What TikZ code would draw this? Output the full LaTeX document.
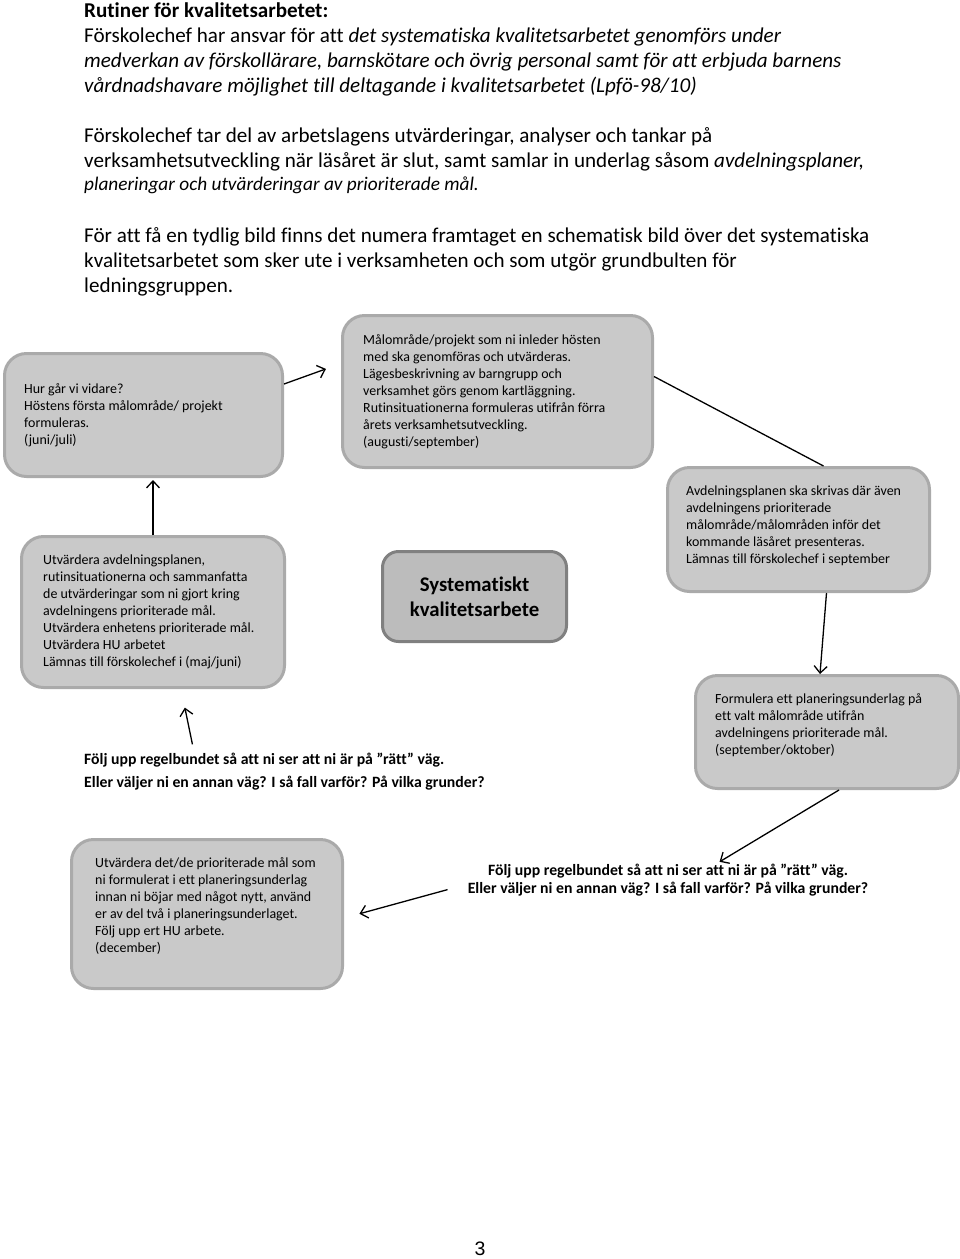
\documentclass[tikz,border=0pt]{standalone}
\usepackage{fontspec}
\setmainfont{Carlito}[Ligatures=NoCommon]
\newfontfamily\sidfont{Liberation Sans}
\usepackage{xcolor}
\usetikzlibrary{arrows.meta}
\usetikzlibrary{positioning}

\definecolor{rutfyll}{RGB}{201,201,201}
\definecolor{rutkant}{RGB}{170,170,170}
\definecolor{mittfyll}{RGB}{188,188,188}
\definecolor{mittkant}{RGB}{128,128,128}

\begin{document}
\begin{tikzpicture}[x=1pt,y=-1pt,
  ruta/.style={draw=rutkant, fill=rutfyll, line width=3pt, rounded corners=22pt,
    inner sep=0pt, anchor=north west},
  rutext/.style={anchor=west, align=left, inner sep=0pt,
    font=\fontsize{13.95}{17}\selectfont},
  brod/.style={anchor=base west, align=left, inner sep=0pt,
    font=\fontsize{21.1}{25}\selectfont},
  fraga/.style={inner sep=0pt, font=\bfseries\fontsize{15.75}{23}\selectfont},
  pil/.style={-{Straight Barb[length=7pt,width=13pt]}, line width=1.3pt}]

\useasboundingbox (0,0) rectangle (960,1259);

% text above the diagram
\node[brod] (rubrik) at (84,92) {\textbf{Rutiner för kvalitetsarbetet:}\\
 Förskolechef har ansvar för att \textit{det systematiska kvalitetsarbetet genomförs under}\\
 \textit{medverkan av förskollärare, barnskötare och övrig personal samt för att erbjuda barnens}\\
 \textit{vårdnadshavare möjlighet till deltagande i kvalitetsarbetet (Lpfö-98/10)}};
\node[brod] (stycke2) at (84,190) {Förskolechef tar del av arbetslagens utvärderingar, analyser och tankar på\\
 verksamhetsutveckling när läsåret är slut, samt samlar in underlag såsom \textit{avdelningsplaner,}\\[-2pt]
 {\fontsize{19.3}{25}\selectfont\textit{planeringar och utvärderingar av prioriterade mål.}}};
\node[brod] (stycke3) at (84,292) {För att få en tydlig bild finns det numera framtaget en schematisk bild över det systematiska\\
 kvalitetsarbetet som sker ute i verksamheten och som utgör grundbulten för\\
 ledningsgruppen.};

% the boxes
\node[ruta, minimum width=278pt, minimum height=123pt] (vidare) at (3,352) {};
\node[rutext] (vidare-txt) at ([xshift=21pt]vidare.west)
 {Hur går vi vidare?\\ Höstens första målområde/ projekt\\ formuleras.\\ (juni/juli)};

\node[ruta, minimum width=310pt, minimum height=152pt] (malomrade) at (341,314) {};
\node[rutext] (malomrade-txt) at ([xshift=22pt]malomrade.west)
 {Målområde/projekt som ni inleder hösten\\ med ska genomföras och utvärderas.\\
  Lägesbeskrivning av barngrupp och\\ verksamhet görs genom kartläggning.\\
  Rutinsituationerna formuleras utifrån förra\\ årets verksamhetsutveckling.\\ (augusti/september)};

\node[ruta, minimum width=262pt, minimum height=124pt] (avdplan) at (666,466) {};
\node[rutext] (avdplan-txt) at ([xshift=20pt,yshift=4pt]avdplan.west)
 {Avdelningsplanen ska skrivas där även\\ avdelningens prioriterade\\
  målområde/målområden inför det\\ kommande läsåret presenteras.\\ Lämnas till förskolechef i september};

\node[ruta, draw=mittkant, fill=mittfyll, rounded corners=16pt, align=center,
  minimum width=184pt, minimum height=90pt, font=\bfseries\fontsize{20.8}{25}\selectfont] (syst) at (381,550)
 {Systematiskt\\ kvalitetsarbete};

\node[ruta, minimum width=263pt, minimum height=151pt] (utvardera) at (20,535) {};
\node[rutext] (utvardera-txt) at ([xshift=23pt]utvardera.west)
 {Utvärdera avdelningsplanen,\\ rutinsituationerna och sammanfatta\\ de utvärderingar som ni gjort kring\\
  avdelningens prioriterade mål.\\ Utvärdera enhetens prioriterade mål.\\ Utvärdera HU arbetet\\
  Lämnas till förskolechef i (maj/juni)};

\node[ruta, minimum width=263pt, minimum height=113pt] (formulera) at (694,674) {};
\node[rutext] (formulera-txt) at ([xshift=21pt,yshift=7pt]formulera.west)
 {Formulera ett planeringsunderlag på\\ ett valt målområde utifrån\\
  avdelningens prioriterade mål.\\ (september/oktober)};

\node[ruta, minimum width=271pt, minimum height=149pt] (december) at (70,838) {};
\node[rutext] (december-txt) at ([xshift=25pt,yshift=8pt]december.west)
 {Utvärdera det/de prioriterade mål som\\ ni formulerat i ett planeringsunderlag\\
  innan ni böjar med något nytt, använd\\ er av del två i planeringsunderlaget.\\
  Följ upp ert HU arbete.\\ (december)};

% free questions
\node[fraga, anchor=base west, align=left] (foljupp1) at (84,787)
 {Följ upp regelbundet så att ni ser att ni är på ”rätt” väg.\\
  Eller väljer ni en annan väg? I så fall varför? På vilka grunder?};
\node[fraga, anchor=base, align=center, font=\bfseries\fontsize{15.75}{18}\selectfont] (foljupp2) at (668,893)
 {Följ upp regelbundet så att ni ser att ni är på ”rätt” väg.\\
  Eller väljer ni en annan väg? I så fall varför? På vilka grunder?};

% arrows
\draw[pil, shorten >=16pt] ([yshift=31pt]vidare.east) -- ([yshift=28pt]malomrade.west);
\draw[pil, shorten >=2pt] (utvardera.north) -- (utvardera.north |- vidare.south);
\draw[line width=1.3pt] ([yshift=15pt]malomrade.east) -- ([xshift=25pt]avdplan.north);
\draw[pil] ([xshift=28pt]avdplan.south) -- ([xshift=-7pt]formulera.north);
\draw[pil, shorten >=3pt] ([xshift=12pt]formulera.south) -- ([xshift=49pt]foljupp2.north);
\draw[pil, shorten >=16pt] ([xshift=-20pt,yshift=-10pt]foljupp2.west) -- ([yshift=-4pt]december.east);
\draw[pil, shorten >=19pt] ([xshift=-92pt,yshift=8pt]foljupp1.north) -- ([xshift=28pt]utvardera.south);

\node[font=\sidfont\fontsize{19.5}{20}\selectfont] (sida) at (480,1249) {3};
\end{tikzpicture}
\end{document}
